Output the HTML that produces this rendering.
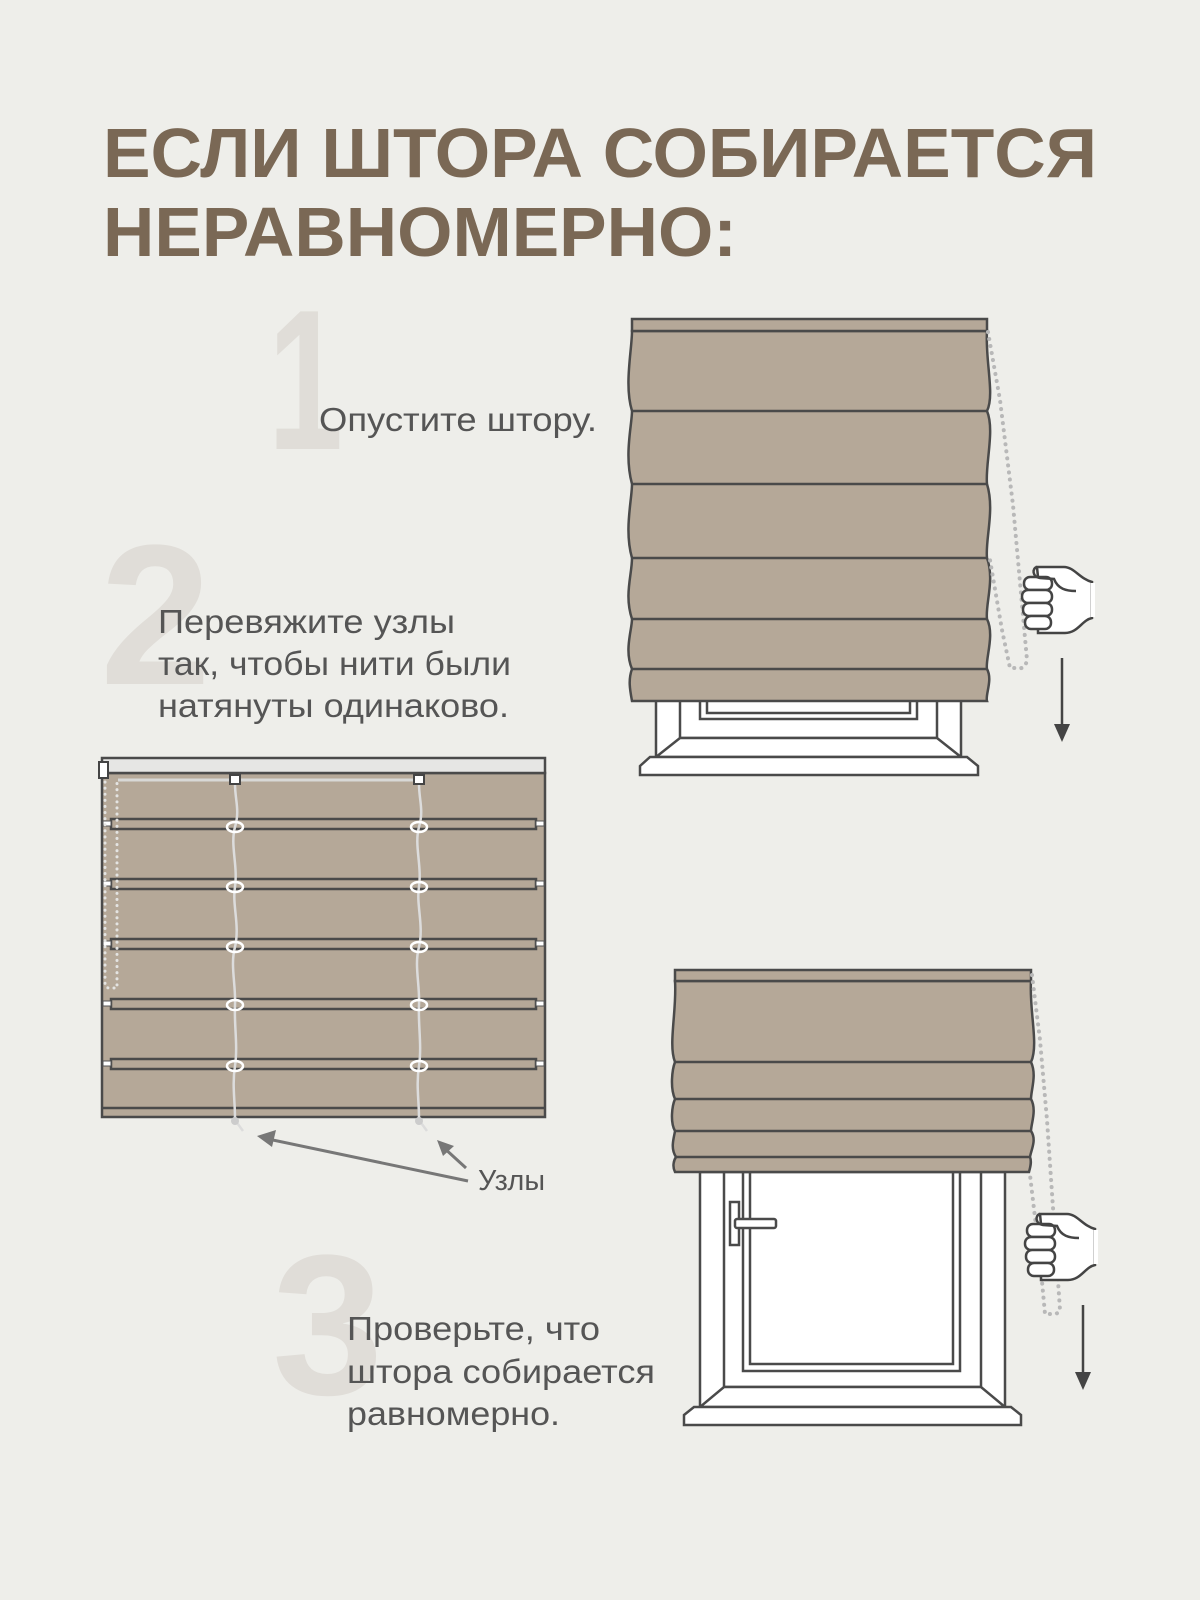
<!DOCTYPE html>
<html><head><meta charset="utf-8"><style>
html,body{margin:0;padding:0;background:#eeeeea;}
svg{display:block}
</style></head><body>
<svg width="1200" height="1600" viewBox="0 0 1200 1600" xmlns="http://www.w3.org/2000/svg">
<defs>
<g id="hand">
  <path d="M17,2 L44,2 C54,2 60,14 72,17 L72,53 C62,55 58,68 45,68 L18,68 L18,12 Z" fill="#fff" stroke="#444" stroke-width="2.5"/>
  <rect x="4" y="12" width="28" height="13" rx="6" fill="#fff" stroke="#444" stroke-width="2.5"/>
  <rect x="2" y="25" width="30" height="13" rx="6" fill="#fff" stroke="#444" stroke-width="2.5"/>
  <rect x="3" y="38" width="29" height="13" rx="6" fill="#fff" stroke="#444" stroke-width="2.5"/>
  <rect x="5" y="51" width="26" height="13" rx="6" fill="#fff" stroke="#444" stroke-width="2.5"/>
  <path d="M17,2 C12,3 12,12 20,13 L34,14 C38,24 46,26 56,26" fill="none" stroke="#444" stroke-width="2.5"/>
  <rect x="71" y="18" width="4" height="34" fill="#fff"/>
</g>
</defs>
<rect width="1200" height="1600" fill="#eeeeea"/>

<g font-family="Liberation Sans, DejaVu Sans, sans-serif" font-weight="bold" fill="#7a6855">
<text x="103" y="177" font-size="70" textLength="994" lengthAdjust="spacingAndGlyphs">ЕСЛИ ШТОРА СОБИРАЕТСЯ</text>
<text x="103" y="256" font-size="70" textLength="634" lengthAdjust="spacingAndGlyphs">НЕРАВНОМЕРНО:</text>
</g>

<g font-family="Liberation Sans, sans-serif" font-weight="bold" fill="#e0ddd8" font-size="200">
<text x="268" y="449" textLength="75" lengthAdjust="spacingAndGlyphs">1</text>
<text x="100" y="684">2</text>
<text x="272" y="1394">3</text>
</g>

<g font-family="Liberation Sans, DejaVu Sans, sans-serif" fill="#555" font-size="33">
<text x="319" y="431" textLength="278" lengthAdjust="spacingAndGlyphs">Опустите штору.</text>
<text x="158" y="633" textLength="297" lengthAdjust="spacingAndGlyphs">Перевяжите узлы</text>
<text x="158" y="675" textLength="353" lengthAdjust="spacingAndGlyphs">так, чтобы нити были</text>
<text x="158" y="717" textLength="351" lengthAdjust="spacingAndGlyphs">натянуты одинаково.</text>
<text x="347" y="1340" textLength="253" lengthAdjust="spacingAndGlyphs">Проверьте, что</text>
<text x="347" y="1383" textLength="308" lengthAdjust="spacingAndGlyphs">штора собирается</text>
<text x="347" y="1425" textLength="213" lengthAdjust="spacingAndGlyphs">равномерно.</text>
<text x="478" y="1190" font-size="29" textLength="67" lengthAdjust="spacingAndGlyphs">Узлы</text>
</g>

<!-- ========== shade 1 ========== -->
<g stroke="#4a4a4a" stroke-width="2.5">
  <rect x="656" y="700" width="305" height="58" fill="#fff"/>
  <rect x="680" y="700" width="257" height="38" fill="#fff"/>
  <rect x="700" y="700" width="217" height="19" fill="#fff"/>
  <rect x="707" y="700" width="203" height="13" fill="#fff"/>
  <path d="M680,738 L937,738 L961,757 L656,757 Z" fill="#fff"/>
  <path d="M650,757 L967,757 L978,766 L978,775 L640,775 L640,766 Z" fill="#fff"/>
  <path d="M632,331 L987,331 C985,360 995,395 987,411 C995,430 985,465 987,484 C995,510 985,540 987,558 C995,580 985,605 987,619 C995,635 985,660 987,669 C993,680 985,695 987,701 L632,701 C630,690 628,680 632,669 C624,650 632,630 632,619 C624,595 632,575 632,558 C624,530 632,500 632,484 C624,455 632,425 632,411 C624,385 632,350 632,331 Z" fill="#b5a898"/>
  <rect x="632" y="319" width="355" height="12" fill="#b5a898"/>
  <path d="M632,411 H987 M632,484 H987 M632,558 H987 M632,619 H987 M632,669 H987" fill="none"/>
</g>
<path d="M988,332 L1000,400 L1013,505 L1027,660 Q1025,670 1017,668 L1010,668 L1002,630 L990,560" fill="none" stroke="#b8b8b8" stroke-width="4" stroke-dasharray="0.1 7" stroke-linecap="round"/>
<use href="#hand" x="1020" y="565"/>
<g stroke="#444" stroke-width="2.5" fill="#444">
  <line x1="1062" y1="658" x2="1062" y2="728"/>
  <path d="M1054,724 L1070,724 L1062,742 Z" stroke="none"/>
</g>

<!-- ========== shade 2 ========== -->
<g stroke="#4a4a4a" stroke-width="2.5">
  <rect x="102" y="773" width="443" height="344" fill="#b5a898"/>
  <rect x="102" y="758" width="443" height="15" fill="#e6e6e4"/>
  <line x1="102" y1="1108" x2="545" y2="1108"/>
  <g fill="#b5a898">
    <rect x="111" y="819" width="425" height="10"/>
    <rect x="111" y="879" width="425" height="10"/>
    <rect x="111" y="939" width="425" height="10"/>
    <rect x="111" y="999" width="425" height="10"/>
    <rect x="111" y="1059" width="425" height="10"/>
  </g>
</g>
<g fill="#fff" stroke="#555" stroke-width="1">
  <rect x="536" y="821" width="8" height="5"/><rect x="536" y="881" width="8" height="5"/><rect x="536" y="941" width="8" height="5"/><rect x="536" y="1001" width="8" height="5"/><rect x="536" y="1061" width="8" height="5"/>
  <rect x="103" y="821" width="8" height="5"/><rect x="103" y="881" width="8" height="5"/><rect x="103" y="941" width="8" height="5"/><rect x="103" y="1001" width="8" height="5"/><rect x="103" y="1061" width="8" height="5"/>
</g>
<line x1="118" y1="780" x2="415" y2="780" stroke="#d8d8d6" stroke-width="3"/>
<g fill="none" stroke="#dcdcdc" stroke-width="2.5">
  <path d="M235,784 C235,800 240,810 235,827 C230,845 238,865 235,887 C232,905 240,925 235,947 C230,965 236,985 235,1005 C234,1025 238,1045 235,1066 C232,1085 235,1100 235,1118"/>
  <path d="M419,784 C419,800 424,810 419,827 C414,845 422,865 419,887 C416,905 424,925 419,947 C414,965 420,985 419,1005 C418,1025 422,1045 419,1066 C416,1085 419,1100 419,1118"/>
  <path d="M235,1120 L243,1131 M419,1120 L427,1131"/>
</g>
<g fill="none" stroke="#fff" stroke-width="2.5">
  <ellipse cx="235" cy="827" rx="8" ry="5"/><ellipse cx="235" cy="887" rx="8" ry="5"/><ellipse cx="235" cy="947" rx="8" ry="5"/><ellipse cx="235" cy="1005" rx="8" ry="5"/><ellipse cx="235" cy="1066" rx="8" ry="5"/>
  <ellipse cx="419" cy="827" rx="8" ry="5"/><ellipse cx="419" cy="887" rx="8" ry="5"/><ellipse cx="419" cy="947" rx="8" ry="5"/><ellipse cx="419" cy="1005" rx="8" ry="5"/><ellipse cx="419" cy="1066" rx="8" ry="5"/>
</g>
<circle cx="235" cy="1121" r="4" fill="#ccc"/><circle cx="419" cy="1121" r="4" fill="#ccc"/>
<g fill="#fff" stroke="#444" stroke-width="2">
  <rect x="230" y="775" width="10" height="9"/>
  <rect x="414" y="775" width="10" height="9"/>
  <rect x="99" y="762" width="9" height="16"/>
</g>
<path d="M105,782 L105,985 Q105,988 110,988 L117,988 L117,782" fill="none" stroke="#e4e4e2" stroke-width="3" stroke-dasharray="0.1 6" stroke-linecap="round"/>
<g stroke="#777" stroke-width="3" fill="#777">
  <line x1="468" y1="1181" x2="268" y2="1139"/>
  <path d="M257,1136 L276,1130 L272,1147 Z" stroke="none"/>
  <line x1="466" y1="1168" x2="443" y2="1147"/>
  <path d="M437,1140 L454,1146 L443,1156 Z" stroke="none"/>
</g>

<!-- ========== shade 3 ========== -->
<g stroke="#4a4a4a" stroke-width="2.5">
  <rect x="700" y="1172" width="305" height="236" fill="#fff"/>
  <rect x="724" y="1172" width="257" height="215" fill="#fff"/>
  <rect x="743" y="1172" width="217" height="199" fill="#fff"/>
  <rect x="750" y="1172" width="203" height="192" fill="#fff"/>
  <path d="M724,1387 L981,1387 L1005,1407 L700,1407 Z" fill="#fff"/>
  <path d="M694,1407 L1011,1407 L1021,1415 L1021,1425 L684,1425 L684,1415 Z" fill="#fff"/>
  <rect x="730" y="1202" width="9" height="43" fill="#fff"/>
  <rect x="735" y="1219" width="41" height="9" rx="2" fill="#fff"/>
  <path d="M675,981 L1031,981 C1029,1010 1039,1045 1031,1062 C1037,1075 1031,1090 1031,1099 C1037,1110 1031,1124 1031,1131 C1037,1140 1031,1150 1030,1157 C1032,1162 1030,1168 1029,1172 L675,1172 C672,1166 674,1160 676,1157 C670,1148 674,1138 675,1131 C670,1122 672,1106 675,1099 C670,1088 672,1070 675,1062 C668,1045 677,1010 675,981 Z" fill="#b5a898"/>
  <rect x="675" y="970" width="356" height="11" fill="#b5a898"/>
  <path d="M675,1062 H1031 M675,1099 H1031 M675,1131 H1031 M676,1157 H1030" fill="none"/>
</g>
<path d="M1032,975 L1040,1040 L1047,1120 L1060,1310 Q1058,1315 1050,1314 L1045,1314 L1040,1260 L1030,1175" fill="none" stroke="#b8b8b8" stroke-width="4" stroke-dasharray="0.1 7" stroke-linecap="round"/>
<use href="#hand" x="1023" y="1212"/>
<g stroke="#444" stroke-width="2.5" fill="#444">
  <line x1="1083" y1="1305" x2="1083" y2="1376"/>
  <path d="M1075,1372 L1091,1372 L1083,1390 Z" stroke="none"/>
</g>
</svg>
</body></html>
